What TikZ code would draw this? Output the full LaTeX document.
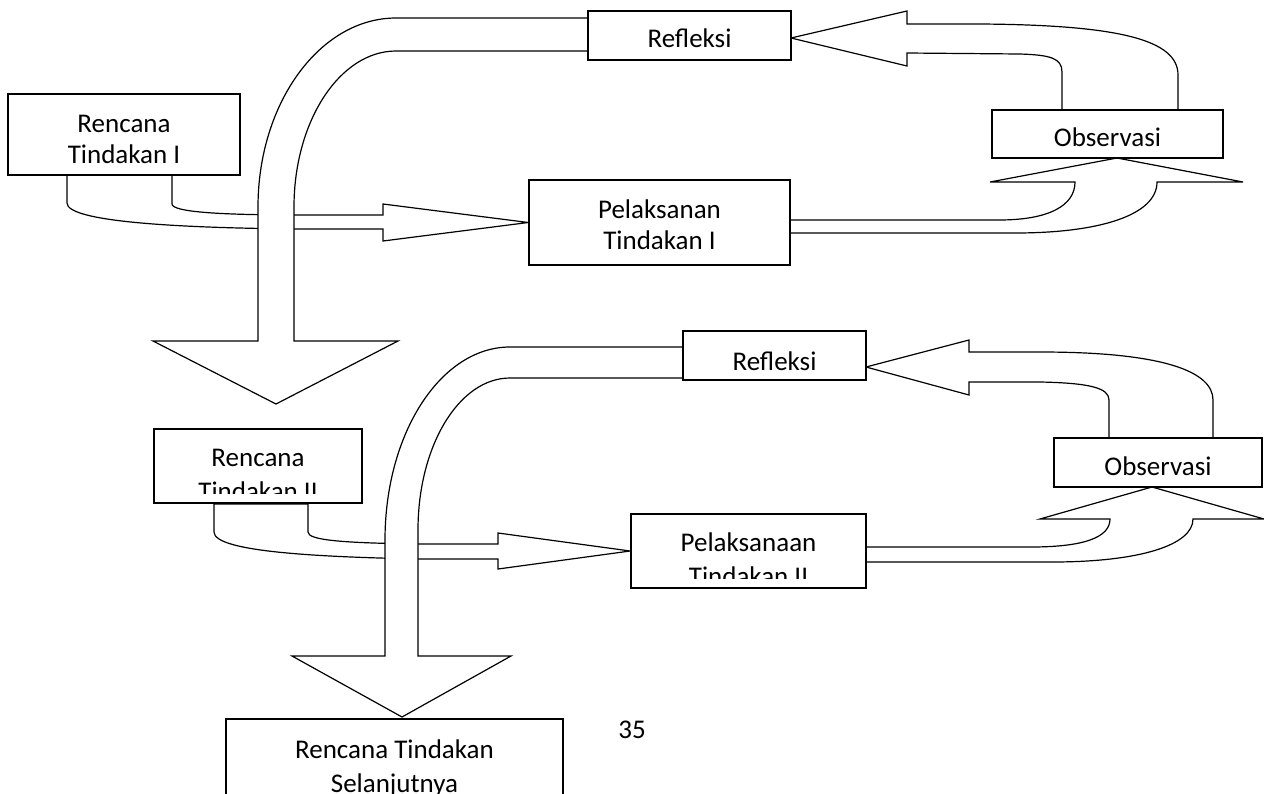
\documentclass[tikz,border=0pt]{standalone}
\usepackage{fontspec}
\setmainfont{Carlito}
\usetikzlibrary{backgrounds}

\begin{document}
\begin{tikzpicture}[x=1pt, y=-1pt,
    box/.style={draw, line width=1.6pt, fill=white, inner sep=0pt},
    blockarrow/.style={draw, line width=1.2pt, fill=white, line join=miter},
    boxtext/.style={anchor=base, align=center, inner sep=0pt, font=\fontsize{27pt}{31pt}\selectfont},
    widetext/.style={boxtext, font=\fontsize{27pt}{34pt}\selectfont}]
  \useasboundingbox (0,0) rectangle (1264,793);

  % Cycle I boxes
  \node[box, minimum width=232pt, minimum height=81pt] (plan1) at (124,134.5) {};
  \node[box, minimum width=203pt, minimum height=49pt] (ref1) at (689.5,35.5) {};
  \node[box, minimum width=261pt, minimum height=85pt] (act1) at (659.5,222.5) {};
  \node[box, minimum width=231pt, minimum height=48pt] (obs1) at (1107.5,134) {};
  % (multi-line text sits on its last baseline)
  \node[boxtext] (plan1text) at (124,163) {Rencana\\Tindakan I};
  \node[boxtext] (ref1text) at (689.5,47) {Refleksi};
  \node[boxtext] (act1text) at (659.5,249) {Pelaksanan\\Tindakan I};
  \node[boxtext] (obs1text) at (1107.5,146) {Observasi};

  % Cycle II boxes
  \node[box, minimum width=208pt, minimum height=74pt] (plan2) at (258,466) {};
  \node[box, minimum width=183pt, minimum height=49pt] (ref2) at (774.5,355.5) {};
  \node[box, minimum width=235pt, minimum height=74pt] (act2) at (748.5,551) {};
  \node[box, minimum width=208pt, minimum height=49pt] (obs2) at (1158,462.5) {};
  \node[box, minimum width=337pt, minimum height=111pt] (next) at (394.5,774.5) {};
  \begin{scope}
    \clip (154,429) rectangle (362,493);
    \node[widetext] (plan2text) at (258,500) {Rencana\\Tindakan II};
  \end{scope}
  \begin{scope}
    \clip (631,514) rectangle (866,578);
    \node[widetext] (act2text) at (748.5,585) {Pelaksanaan\\Tindakan II};
  \end{scope}
  \node[boxtext] (ref2text) at (774.5,370) {Refleksi};
  \node[boxtext] (obs2text) at (1158,475) {Observasi};
  \node[widetext] (nexttext) at (394.5,792) {Rencana Tindakan\\Selanjutnya};

  % page number
  \node[boxtext] (pagenum) at (632,738) {35};

  \begin{scope}[on background layer]
    % plan I -> action I
    \draw[blockarrow] (67,175) -- (67,203) .. controls (67,222) and (180,228) .. (300,229)
      -- (383,229) -- (383,241) -- (act1.west) -- (383,204) -- (383,215) -- (300,215)
      .. controls (220,215) and (172,212) .. (172,204) -- (172,175) -- cycle;
    % reflection I -> plan II
    \draw[blockarrow] (588,18) -- (396,18) .. controls (320,18) and (258,103) .. (258,207)
      -- (258,341) -- (153,341) -- (276,404) -- (398,341) -- (294,341) -- (294,207)
      .. controls (294,121) and (340,51) .. (396,51) -- (588,51) -- cycle;
    % action I -> observation I
    \draw[blockarrow] (790,220) -- (999,220) .. controls (1050,220) and (1075,205) .. (1075,182)
      -- (990,182) -- (1117,158) -- (1243,182) -- (1157,182)
      .. controls (1157,215) and (1100,233) .. (1015,233) -- (790,233) -- cycle;
    % observation I -> reflection I
    \draw[blockarrow] (1062,110) -- (1062,72) .. controls (1062,58) and (1050,55) .. (1020,54)
      -- (907,53) -- (907,66) -- (791,38) -- (907,11) -- (907,24) -- (980,24)
      .. controls (1120,25) and (1178,40) .. (1178,75) -- (1178,110) -- cycle;

    % plan II -> action II
    \draw[blockarrow] (214,504) -- (214,532) .. controls (214,552) and (320,557) .. (420,559)
      -- (498,559) -- (498,569) -- (act2.west) -- (498,533) -- (498,544) -- (420,544)
      .. controls (340,543) and (308,540) .. (308,532) -- (308,504) -- cycle;
    % reflection II -> next plan
    \draw[blockarrow] (683,347) -- (510,347) .. controls (441,347) and (385,433) .. (385,540)
      -- (385,656) -- (292,656) -- (402,717) -- (511,656) -- (418,656) -- (418,530)
      .. controls (418,446) and (459,378) .. (510,378) -- (683,378) -- cycle;
    % action II -> observation II
    \draw[blockarrow] (866,547) -- (1031,547) .. controls (1085,547) and (1110,537) .. (1110,519)
      -- (1040,519) -- (1152,487) -- (1264,519) -- (1193,519)
      .. controls (1193,545) and (1140,562) .. (1052,562) -- (866,562) -- cycle;
    % observation II -> reflection II
    \draw[blockarrow] (1109,438) -- (1109,400) .. controls (1109,388) and (1090,383) .. (1040,382)
      -- (969,382) -- (969,395) -- (866,367) -- (969,340) -- (969,352) -- (1040,352)
      .. controls (1165,352) and (1213,372) .. (1213,400) -- (1213,438) -- cycle;
  \end{scope}
\end{tikzpicture}
\end{document}
